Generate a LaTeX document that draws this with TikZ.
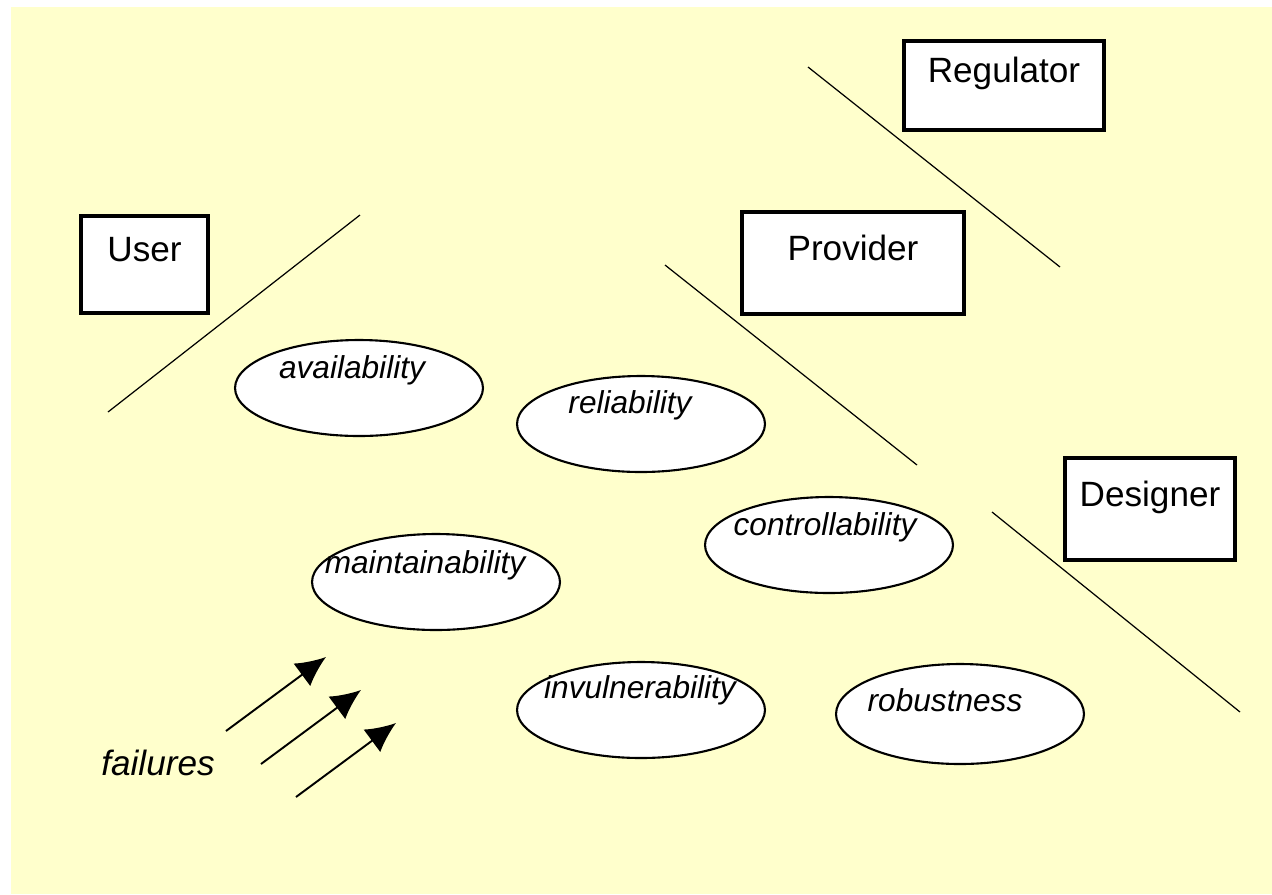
\documentclass[tikz,border=0pt]{standalone}
\usepackage{fontspec}
\setmainfont{Liberation Sans}
\usetikzlibrary{shapes.geometric,arrows.meta}
\definecolor{paper}{HTML}{FFFFCC}
\tikzset{
  actor/.style={draw,fill=white,line width=1.9pt,font=\fontsize{20}{24}\selectfont,
    text height=15pt,text depth=18pt,inner sep=0pt},
  quality/.style={draw,ellipse,fill=white,line width=1.2pt,
    minimum width=4.96cm,minimum height=1.92cm,inner sep=0pt},
  qtext/.style={font=\fontsize{18}{22}\selectfont\itshape,inner sep=0pt},
  divider/.style={line width=0.7pt},
  hit/.style={line width=1.1pt,-{Latex[length=17pt,width=16pt]}}
}

\begin{document}
\begin{tikzpicture}[x=0.02cm,y=-0.02cm]
  \fill[white] (0,0) rectangle (1272,894);
  \fill[paper] (11,7) rectangle (1272,894);

  \node[actor,minimum width=2.54cm,minimum height=1.94cm] (user) at (144.5,264.5) {User};
  \node[actor,minimum width=4cm,minimum height=1.78cm] (regulator) at (1004,85.5) {Regulator};
  \node[actor,minimum width=4.44cm,minimum height=2.04cm] (provider) at (853,263) {Provider};
  \node[actor,minimum width=3.4cm,minimum height=2.04cm] (designer) at (1150,509) {Designer};

  \coordinate (u1) at (108,412);  \coordinate (u2) at (360,215);
  \coordinate (r1) at (808,67);   \coordinate (r2) at (1060,267);
  \coordinate (p1) at (665,265);  \coordinate (p2) at (917,465);
  \coordinate (d1) at (992,512);  \coordinate (d2) at (1240,712);
  \draw[divider] (u1) -- (u2);
  \draw[divider] (r1) -- (r2);
  \draw[divider] (p1) -- (p2);
  \draw[divider] (d1) -- (d2);

  \node[quality] (avail) at (359,388) {};
  \node[qtext] (avail-t) at (352,370) {availability};
  \node[quality] (reli) at (641,424) {};
  \node[qtext] (reli-t) at (630,405) {reliability};
  \node[quality] (contr) at (829,545) {};
  \node[qtext] (contr-t) at (825,527) {controllability};
  \node[quality] (maint) at (436,582) {};
  \node[qtext] (maint-t) at (425,565) {maintainability};
  \node[quality] (invul) at (641,710) {};
  \node[qtext] (invul-t) at (640,690) {invulnerability};
  \node[quality,minimum height=2cm] (robust) at (960,714) {};
  \node[qtext] (robust-t) at (945,700) {robustness};

  \foreach \i in {0,1,2} {
    \coordinate (f\i) at (226+35*\i,731+33*\i);
    \coordinate (g\i) at (326+35*\i,657+33*\i);
    \draw[hit] (f\i) -- (g\i);
  }
  \node[qtext,font=\fontsize{20}{24}\selectfont\itshape] (fail) at (158,763) {failures};
\end{tikzpicture}
\end{document}
